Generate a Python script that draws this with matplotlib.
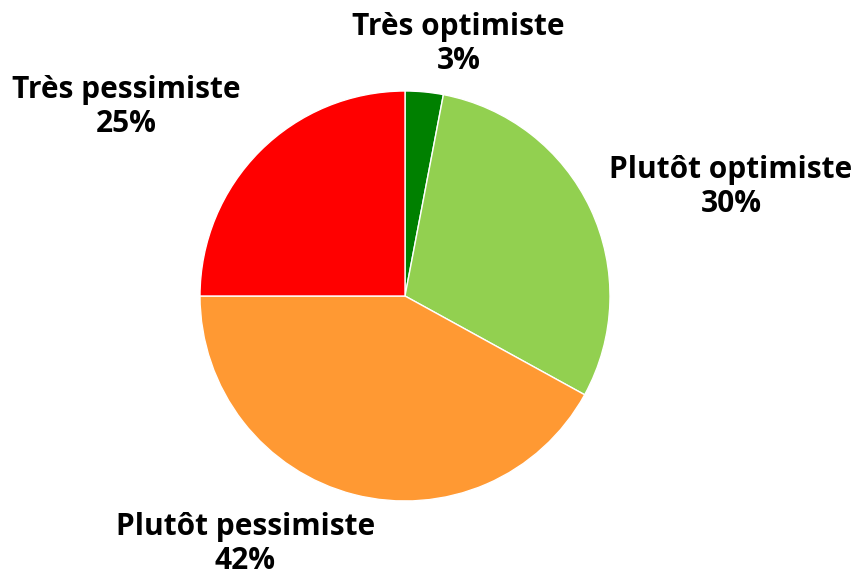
import numpy as np
import matplotlib.pyplot as plt

# Data
categories = ['Très optimiste', 'Plutôt optimiste', 'Plutôt pessimiste', 'Très pessimiste']
shares = [3, 30, 42, 25]
colors = ['#008000', '#92D050', '#FF9933', '#FF0000']

# label positions (in pie-radius units, relative to the centre)
label_pos = [(0.26, 1.23), (1.59, 0.53), (-0.78, -1.21), (-1.36, 0.92)]

fig = plt.figure(figsize=(8.56, 5.75), dpi=100)
ax = fig.add_axes([0, 0, 1, 1])

ax.pie(shares, colors=colors, startangle=90, counterclock=False,
       radius=1, wedgeprops=dict(edgecolor='white', linewidth=1))

for name, val, (x, y) in zip(categories, shares, label_pos):
    ax.text(x, y, f'{name}\n{val}%', ha='center', va='center',
            fontsize=21.5, fontweight='bold', family='Open Sans',
            linespacing=1.17, color='black')

# 1 unit = 205 px, centre at (405, 296) from top-left
ax.set_xlim(-405 / 205, (856 - 405) / 205)
ax.set_ylim(-(575 - 296) / 205, 296 / 205)
ax.set_aspect('auto')
ax.axis('off')

plt.savefig('out.png', dpi=100)
